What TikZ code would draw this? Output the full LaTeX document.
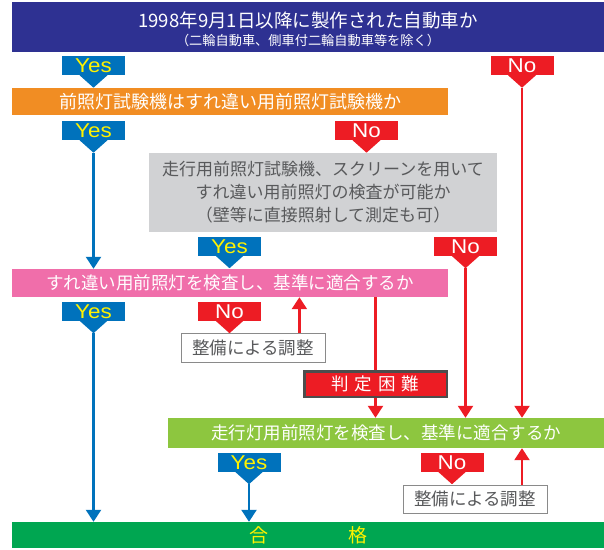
\documentclass[tikz,border=0pt]{standalone}
\usepackage{fontspec}
\setmainfont{Noto Sans CJK JP}
\newfontfamily\tagfont[FakeStretch=1.12]{Liberation Sans}
\usetikzlibrary{arrows.meta,calc}
\definecolor{topblue}{HTML}{2E3192}
\definecolor{qorange}{HTML}{F18D23}
\definecolor{qgray}{HTML}{D1D2D4}
\definecolor{qpink}{HTML}{F06EAA}
\definecolor{qgreen}{HTML}{8DC63F}
\definecolor{passgreen}{HTML}{00A651}
\definecolor{yesblue}{HTML}{0072BC}
\definecolor{yesyellow}{HTML}{FFF200}
\definecolor{nored}{HTML}{ED1C24}
\definecolor{textgray}{HTML}{58595B}
\definecolor{boxgray}{HTML}{8A8A8A}
\definecolor{hardgray}{HTML}{4D4D4D}
% pointer under a Yes/No tag, with a coordinate at its tip
\newcommand{\tagtip}[2]{%
  \fill[#2] ([xshift=-14pt]#1.south)--([xshift=14pt]#1.south)--
    ([yshift=-12.5pt]#1.south) coordinate (#1tip)--cycle;}

\begin{document}
\begin{tikzpicture}[x=1pt,y=-1pt,
  font=\fontsize{17.5}{22}\selectfont,
  bar/.style={inner sep=0pt,align=center,text=white,minimum height=27pt},
  box/.style={draw=boxgray,line width=0.8pt,fill=white,text=textgray,
    inner sep=0pt,minimum width=144pt,minimum height=29pt},
  tagbox/.style={font=\tagfont\fontsize{20}{20}\selectfont,inner sep=0pt,
    minimum width=63pt,minimum height=19pt,text height=14.3pt,text depth=0pt},
  yestag/.style={tagbox,fill=yesblue,text=yesyellow},
  notag/.style={tagbox,fill=nored,text=white},
  yesflow/.style={draw=yesblue,line width=2.2pt,
    -{Triangle[length=12pt,width=15pt]}},
  noline/.style={draw=nored,line width=2.2pt},
  noflow/.style={yesflow,draw=nored}]
\useasboundingbox (0,0) rectangle (604,549);

\node[bar,fill=topblue,minimum width=592pt,minimum height=50pt,
  font=\fontsize{13.2}{17.5}\selectfont] (q1) at (308,27)
  {{\fontsize{18.5}{17.5}\selectfont\rule{0pt}{20.5pt}1998年9月1日以降に製作された自動車か}\\
   （二輪自動車、側車付二輪自動車等を除く）};
\node[yestag] (yes1) at (93.5,65.5) {Yes};
\node[notag] (no1) at (522,65.5) {No};
\node[bar,fill=qorange,minimum width=436pt,font=\fontsize{18}{22}\selectfont]
  (q2) at (230,101.5) {前照灯試験機はすれ違い用前照灯試験機か};
\node[yestag] (yes2) at (93.5,130.5) {Yes};
\node[notag] (no2) at (366.5,130.5) {No};
\node[bar,fill=qgray,text=textgray,minimum width=348pt,minimum height=79pt,
  font=\fontsize{17}{23}\selectfont] (q3) at (323,192.5)
  {走行用前照灯試験機、スクリーンを用いて\\すれ違い用前照灯の検査が可能か\\（壁等に直接照射して測定も可）};
\node[yestag] (yes3) at (229.5,246) {Yes};
\node[notag] (no3) at (465.5,246) {No};
\node[bar,fill=qpink,minimum width=436pt,minimum height=28pt] (q4) at (230,283)
  {すれ違い用前照灯を検査し、基準に適合するか};
\node[yestag] (yes4) at (93.5,311) {Yes};
\node[notag] (no4) at (229.5,311) {No};
\node[box] (fix1) at (253,347.5) {整備による調整};
\node[bar,fill=nored,draw=hardgray,line width=2.5pt,minimum width=142.5pt,
  minimum height=25.5pt] (hard) at (375.5,384) {判\hspace{6pt}定\hspace{6pt}困\hspace{6pt}難};
\node[bar,fill=qgreen,minimum width=436pt,minimum height=30pt] (q5) at (386,433)
  {走行灯用前照灯を検査し、基準に適合するか};
\node[yestag] (yes5) at (249,462) {Yes};
\node[notag] (no5) at (452,462) {No};
\node[box,minimum height=28pt] (fix2) at (475,499) {整備による調整};
\node[bar,fill=passgreen,text=yesyellow,minimum width=592pt,minimum height=26pt,
  font=\fontsize{19}{22}\selectfont] (pass) at (308,535) {合\hspace{80pt}格};

\tagtip{yes1}{yesblue}\tagtip{no1}{nored}
\tagtip{yes2}{yesblue}\tagtip{no2}{nored}
\tagtip{yes3}{yesblue}\tagtip{no3}{nored}
\tagtip{yes4}{yesblue}\tagtip{no4}{nored}
\tagtip{yes5}{yesblue}\tagtip{no5}{nored}

\draw[yesflow] (yes2tip)--(yes2tip |- q4.north);
\draw[yesflow] (yes4tip)--(yes4tip |- pass.north);
\draw[yesflow] (yes5tip)--(yes5tip |- pass.north);
\draw[noflow] (no1tip)--(no1tip |- q5.north);
\draw[noflow] (no3tip)--(no3tip |- q5.north);
\coordinate (fix1out) at ([xshift=-26pt]fix1.north east);
\draw[noflow] (fix1out)--(fix1out |- q4.south);
\draw[noline] (hard.north |- q4.south)--(hard.north);
\draw[noflow] (hard.south)--(hard.south |- q5.north);
\draw[noflow] (fix2.north -| no1tip)--(no1tip |- q5.south);
\end{tikzpicture}
\end{document}
